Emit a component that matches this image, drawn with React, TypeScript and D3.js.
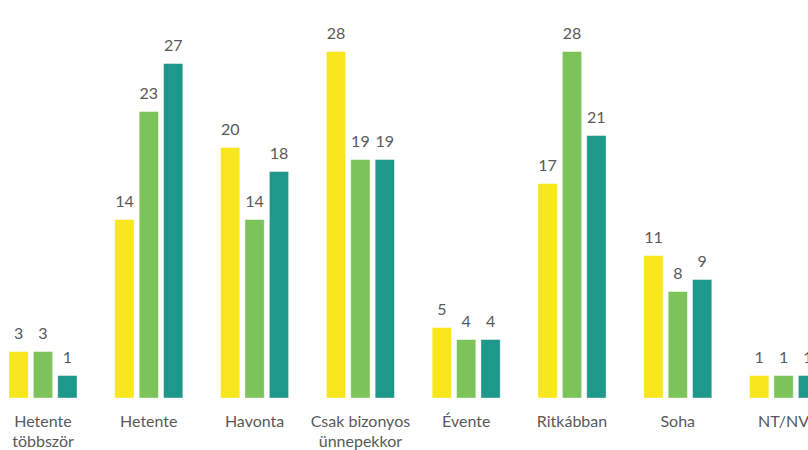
import React from "react";
import * as d3 from "d3";

const categories: string[][] = [
  ["Hetente", "többször"],
  ["Hetente"],
  ["Havonta"],
  ["Csak bizonyos", "ünnepekkor"],
  ["Évente"],
  ["Ritkábban"],
  ["Soha"],
  ["NT/NV"],
];
const seriesNames = ["A", "B", "C"];
const seriesA = [3, 14, 20, 28, 5, 17, 11, 1];
const seriesB = [3, 23, 14, 19, 4, 28, 8, 1];
const seriesC = [1, 27, 18, 19, 4, 21, 9, 1];
const colors = ["#F8E71C", "#7CC35A", "#1E988A"];

const W = 808;
const H = 450;
const baseline = 398;

export default function App() {
  const series = [seriesA, seriesB, seriesC];
  const keys = categories.map((c) => c.join(" "));
  const x = d3
    .scaleBand<string>()
    .domain(keys)
    .range([-9.9, 836.5])
    .paddingInner(0.357)
    .paddingOuter(0.1785);
  const xi = d3
    .scaleBand<string>()
    .domain(seriesNames)
    .range([0, x.bandwidth()])
    .paddingInner(0.21)
    .paddingOuter(0);
  const y = d3.scaleLinear().domain([-0.87, 30]).range([baseline, baseline - 12 * 30.87]);
  const font = "Lato, 'Open Sans', sans-serif";
  const textColor = "#595959";

  return (
    <svg
      width={W}
      height={H}
      style={{ position: "absolute", left: 0, top: 0, background: "#fff" }}
    >
      {keys.map((k, ci) => (
        <g key={k} transform={`translate(${x(k)},0)`}>
          {series.map((s, si) => {
            const v = s[ci];
            const bx = xi(seriesNames[si])!;
            const top = y(v);
            return (
              <g key={si}>
                <rect
                  x={bx}
                  y={top}
                  width={xi.bandwidth()}
                  height={baseline - top}
                  fill={colors[si]}
                  stroke="#ffffff"
                  strokeOpacity={0.5}
                  strokeWidth={0.8}
                />
                <text
                  x={bx + xi.bandwidth() / 2}
                  y={top - 13}
                  textAnchor="middle"
                  fontFamily={font}
                  fontSize={16}
                  fill={textColor}
                >
                  {d3.format("d")(v)}
                </text>
              </g>
            );
          })}
          {categories[ci].map((line, li) => (
            <text
              key={li}
              x={x.bandwidth() / 2}
              y={427 + li * 20}
              textAnchor="middle"
              fontFamily={font}
              fontSize={16}
              fill={textColor}
            >
              {line}
            </text>
          ))}
        </g>
      ))}
    </svg>
  );
}
